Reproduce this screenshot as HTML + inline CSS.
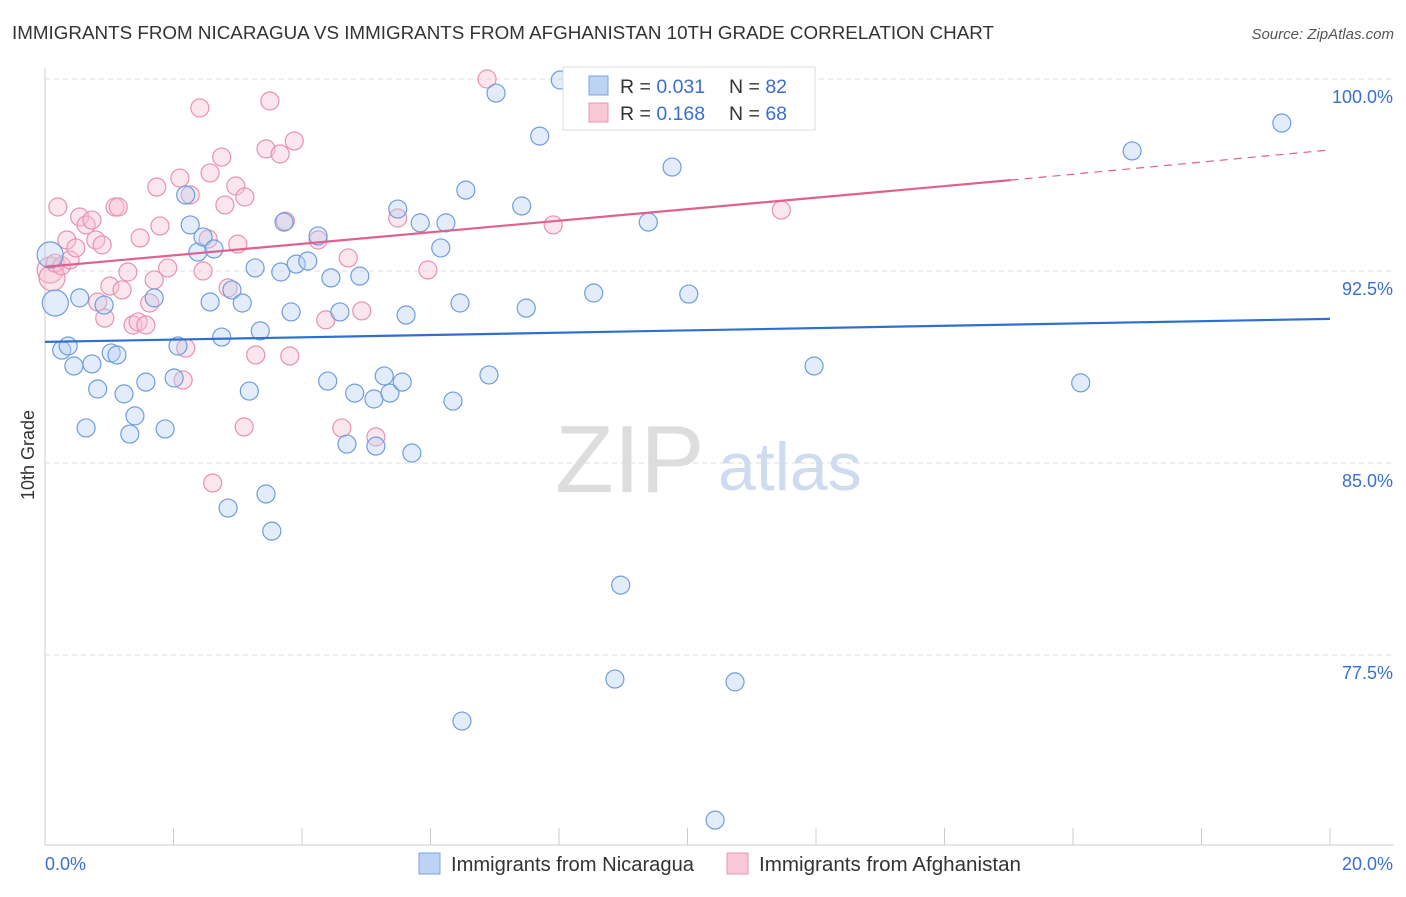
<!DOCTYPE html>
<html><head><meta charset="utf-8">
<style>
body{margin:0;background:#fff;font-family:"Liberation Sans",sans-serif;}
svg text{font-family:"Liberation Sans",sans-serif;}
</style></head>
<body>
<svg id="chart" width="1406" height="892" viewBox="0 0 1406 892" xmlns="http://www.w3.org/2000/svg">
<text x="12" y="39" font-size="18" fill="#333" textLength="982" lengthAdjust="spacingAndGlyphs">IMMIGRANTS FROM NICARAGUA VS IMMIGRANTS FROM AFGHANISTAN 10TH GRADE CORRELATION CHART</text>
<text x="1394" y="39" font-size="15" fill="#555" font-style="italic" text-anchor="end">Source: ZipAtlas.com</text>
<g id="grid"></g>
<g id="axes"></g>
<text x="555" y="492" font-size="96" fill="#ddd" font-family="Liberation Serif">ZIP</text>
<text x="718" y="490" font-size="68" fill="#cfdcf0">atlas</text>
<g id="marks"></g>
<g id="trends"></g>
<text x="34" y="455" font-size="18" fill="#333" transform="rotate(-90 34 455)" text-anchor="middle">10th Grade</text>
<g>
<rect x="563" y="67" width="252" height="63" fill="#fff" stroke="#ddd"/>
<rect x="589" y="76" width="19" height="19" fill="#bcd3f3" stroke="#7aa6e0"/>
<text x="620" y="93" font-size="19.5" fill="#333">R = <tspan fill="#3a6fd0">0.031</tspan></text>
<text x="729" y="93" font-size="19.5" fill="#333">N = <tspan fill="#3a6fd0">82</tspan></text>
<rect x="589" y="103" width="19" height="19" fill="#f8c8d6" stroke="#e896b0"/>
<text x="620" y="120" font-size="19.5" fill="#333">R = <tspan fill="#3a6fd0">0.168</tspan></text>
<text x="729" y="120" font-size="19.5" fill="#333">N = <tspan fill="#3a6fd0">68</tspan></text>
</g>
<g>
<rect x="419" y="853" width="21" height="21" fill="#bcd3f3" stroke="#7aa6e0"/>
<text x="451" y="871" font-size="20" fill="#333" textLength="243" lengthAdjust="spacingAndGlyphs">Immigrants from Nicaragua</text>
<rect x="727" y="853" width="21" height="21" fill="#f8c8d6" stroke="#e896b0"/>
<text x="759" y="871" font-size="20" fill="#333" textLength="262" lengthAdjust="spacingAndGlyphs">Immigrants from Afghanistan</text>
</g>
</svg>
<script>
const blueX=[0.08,0.16,0.26,0.36,0.45,0.54,0.64,0.73,0.82,0.92,1.03,1.12,1.23,1.32,1.40,1.57,1.70,1.87,2.01,2.07,2.19,2.26,2.38,2.46,2.57,2.63,2.75,2.85,2.91,3.07,3.18,3.27,3.35,3.44,3.53,3.67,3.72,3.83,3.91,4.09,4.25,4.40,4.45,4.59,4.70,4.82,4.90,5.12,5.15,5.28,5.37,5.49,5.56,5.62,5.71,5.84,6.16,6.24,6.35,6.46,6.55,6.49,6.91,7.02,7.42,7.49,7.70,8.02,8.54,8.96,8.87,9.39,9.76,10.02,10.43,10.74,11.97,16.12,16.92,19.25];
const blueY=[93.13,91.25,89.41,89.57,88.79,91.45,86.37,88.87,87.89,91.17,89.30,89.22,87.70,86.13,86.84,88.16,91.45,86.33,88.32,89.57,95.47,94.30,93.24,93.83,91.29,93.36,89.92,83.24,91.76,91.25,87.81,92.62,90.16,83.79,82.34,92.46,94.41,90.90,92.77,92.89,93.87,88.20,92.23,90.90,85.74,87.73,92.30,87.50,85.66,88.40,87.73,94.92,88.16,90.78,85.39,94.38,93.40,94.38,87.42,91.25,95.66,74.92,88.44,99.45,95.04,91.05,97.77,99.96,91.64,80.23,76.56,94.41,96.56,91.60,71.05,76.45,88.79,88.13,97.19,98.28];
const pinkX=[0.08,0.11,0.16,0.20,0.26,0.34,0.39,0.48,0.54,0.64,0.73,0.79,0.89,0.82,0.93,1.01,1.09,1.14,1.20,1.29,1.37,1.45,1.48,1.57,1.63,1.70,1.74,1.79,1.91,2.10,2.15,2.19,2.26,2.41,2.46,2.54,2.57,2.61,2.75,2.80,2.85,2.97,3.00,3.10,3.11,3.28,3.44,3.50,3.66,3.74,3.81,3.88,4.25,4.37,4.62,4.72,4.93,5.15,5.49,5.96,6.88,7.91,10.41,11.46];
const pinkY=[92.54,92.23,92.81,95.00,92.70,93.71,92.93,93.40,94.61,94.30,94.49,93.71,93.52,91.29,90.66,91.91,95.00,95.00,91.76,92.46,90.39,90.51,93.79,90.39,91.25,92.15,95.78,94.26,92.62,96.13,88.24,89.49,95.47,98.87,92.50,93.75,96.33,84.22,96.95,95.08,91.84,95.82,93.55,86.41,95.39,89.22,97.27,99.14,97.07,94.45,89.18,97.58,93.71,90.59,86.37,93.01,90.94,86.02,94.57,92.54,100.0,94.30,99.18,94.88];
const blueTrendX=[0,20];
const blueTrendY=[89.73,90.63];
const pinkTrendX=[0,15.03,20];
const pinkTrendY=[92.66,96.05,97.23];
const yTicks=[100,92.5,85,77.5];
const yTickLabels=["100.0%","92.5%","85.0%","77.5%"];
const xTicks=[0,2,4,6,8,10,12,14,16,18,20];
const xLabels=["0.0%","20.0%"];

const NS="http://www.w3.org/2000/svg";
const sx=v=>45+v*64.25;
const sy=v=>79+(100-v)*25.6;
function mk(tag,attrs,parent){const e=document.createElementNS(NS,tag);for(const k in attrs)e.setAttribute(k,attrs[k]);parent.appendChild(e);return e;}
const grid=document.getElementById('grid'),axes=document.getElementById('axes'),marks=document.getElementById('marks'),trends=document.getElementById('trends');
yTicks.forEach((t,i)=>{
  const l=mk('line',{x1:45,x2:1394,y1:sy(t),y2:sy(t),stroke:'#ddd','stroke-dasharray':'5,4'},grid);
  
  
  const tx=mk('text',{x:1393,y:sy(t)+24,'font-size':18,fill:'#3a6fd0','text-anchor':'end'},axes);
  tx.textContent=yTickLabels[i];
  
  
});
const ya=mk('line',{x1:45,x2:45,y1:68,y2:845,stroke:'#ccc'},axes);


const xa=mk('line',{x1:45,x2:1394,y1:845,y2:845,stroke:'#ccc'},axes);


xTicks.forEach(t=>{
  const l=mk('line',{x1:sx(t),x2:sx(t),y1:828,y2:845,stroke:'#ccc'},axes);
  
  
});
const xl0=mk('text',{x:45,y:870,'font-size':18,fill:'#3a6fd0'},axes);
xl0.textContent=xLabels[0];


const xl1=mk('text',{x:1393,y:870,'font-size':18,fill:'#3a6fd0','text-anchor':'end'},axes);
xl1.textContent=xLabels[1];


function pts(X,Y,fill,stroke,name){
  X.forEach((x,i)=>{
    const big=x<0.2&&i<2;
    const c=mk('circle',{cx:sx(x),cy:sy(Y[i]),r:big?13:9,fill:fill,'fill-opacity':0.4,stroke:stroke,'stroke-width':1.2},marks);
    
    
  });
}
pts(pinkX,pinkY,'#f8c0d2','#e891ae','point-afghanistan');
pts(blueX,blueY,'#b9d0f2','#6f9ddc','point-nicaragua');
const bt=mk('line',{x1:sx(blueTrendX[0]),y1:sy(blueTrendY[0]),x2:sx(blueTrendX[1]),y2:sy(blueTrendY[1]),stroke:'#2f6fd0','stroke-width':2.2},trends);


const pt=mk('line',{x1:sx(pinkTrendX[0]),y1:sy(pinkTrendY[0]),x2:sx(pinkTrendX[1]),y2:sy(pinkTrendY[1]),stroke:'#e0608e','stroke-width':2.2},trends);


const pd=mk('line',{x1:sx(pinkTrendX[1]),y1:sy(pinkTrendY[1]),x2:sx(pinkTrendX[2]),y2:sy(pinkTrendY[2]),stroke:'#e0608e','stroke-width':1.2,'stroke-dasharray':'8,6'},trends);


</script>
</body></html>
